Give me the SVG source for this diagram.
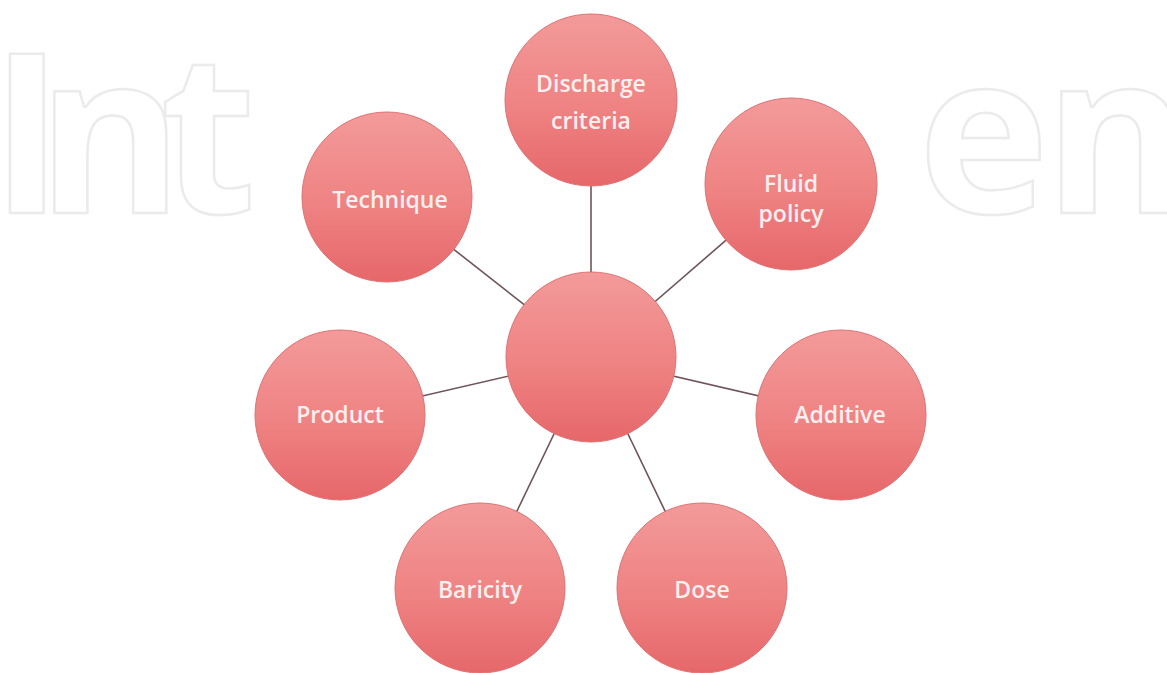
<svg xmlns="http://www.w3.org/2000/svg" width="1167" height="673" viewBox="0 0 1167 673">
  <defs>
    <linearGradient id="ball" x1="0" y1="0" x2="0" y2="1">
      <stop offset="0" stop-color="#f39a9a"/>
      <stop offset="0.55" stop-color="#ef8282"/>
      <stop offset="1" stop-color="#e6676a"/>
    </linearGradient>
    <style>
      .mark { font-family: "Open Sans", "DejaVu Sans", sans-serif; font-weight: 700; font-size: 222px; fill: none; stroke: #ebebeb; stroke-width: 2.5; }
      .node circle { fill: url(#ball); stroke: #df7072; stroke-width: 1; }
      .node text { font-family: "Open Sans", "Liberation Sans", sans-serif; font-weight: 600; font-size: 23px; fill: #fcefef; text-anchor: middle; }
      .links line { stroke: #6f5559; stroke-width: 1.6; }
    </style>
  </defs>
  <rect width="1167" height="673" fill="#ffffff"/>

  <!-- background lettering -->
  <text class="mark" x="-10" y="213">I</text>
  <text class="mark" x="37" y="213">n</text>
  <text class="mark" x="160" y="213">t</text>
  <text class="mark" x="918" y="213">e</text>
  <text class="mark" x="1044" y="213">n</text>

  <!-- spokes from the hub to each outer node -->
  <g id="connectors" class="links">
    <line x1="591" y1="357" x2="591" y2="100"/>
    <line x1="591" y1="357" x2="387" y2="197"/>
    <line x1="591" y1="357" x2="791" y2="184"/>
    <line x1="591" y1="357" x2="340" y2="415"/>
    <line x1="591" y1="357" x2="841" y2="415"/>
    <line x1="591" y1="357" x2="480" y2="588"/>
    <line x1="591" y1="357" x2="702" y2="588"/>
  </g>

  <g id="hub" class="node"><circle cx="591" cy="357" r="85"/></g>

  <g id="discharge" class="node">
    <circle cx="591" cy="100" r="86"/>
    <text x="591" y="92">Discharge</text>
    <text x="591" y="129">criteria</text>
  </g>
  <g id="technique" class="node">
    <circle cx="387" cy="197" r="85"/>
    <text x="390" y="208">Technique</text>
  </g>
  <g id="fluid" class="node">
    <circle cx="791" cy="184" r="86"/>
    <text x="791" y="192">Fluid</text>
    <text x="791" y="222">policy</text>
  </g>
  <g id="product" class="node">
    <circle cx="340" cy="415" r="85"/>
    <text x="340" y="423">Product</text>
  </g>
  <g id="additive" class="node">
    <circle cx="841" cy="415" r="85"/>
    <text x="840" y="423">Additive</text>
  </g>
  <g id="baricity" class="node">
    <circle cx="480" cy="588" r="85"/>
    <text x="480" y="598">Baricity</text>
  </g>
  <g id="dose" class="node">
    <circle cx="702" cy="588" r="85"/>
    <text x="702" y="598">Dose</text>
  </g>
</svg>
